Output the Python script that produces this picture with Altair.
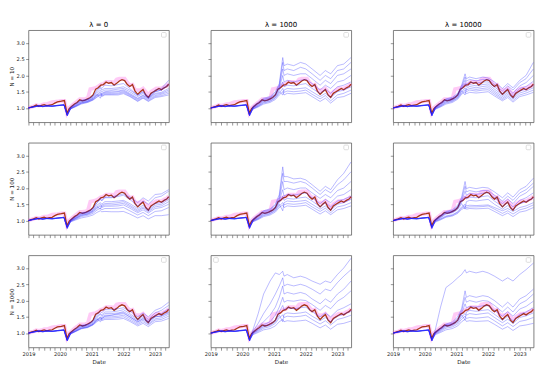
import altair as alt
import pandas as pd

COL_TITLES = ["λ = 0", "λ = 1000", "λ = 10000"]
ROW_TITLES = ["N = 10", "N = 100", "N = 1000"]

# Benchmark index (red line), read monthly
INDEX_DATES = [
    "2019-01-01", "2019-02-01", "2019-03-01", "2019-04-01", "2019-05-01", "2019-06-01",
    "2019-07-01", "2019-08-01", "2019-09-01", "2019-10-01", "2019-11-01", "2019-12-01",
    "2020-01-15", "2020-02-20", "2020-03-20", "2020-04-15", "2020-05-15", "2020-06-15",
    "2020-07-15", "2020-08-15", "2020-09-15", "2020-10-15", "2020-11-15", "2020-12-15",
    "2021-01-15", "2021-02-15", "2021-03-15", "2021-04-15", "2021-05-15", "2021-06-15",
    "2021-07-15", "2021-08-15", "2021-09-15", "2021-10-15", "2021-11-15", "2021-12-15",
    "2022-01-15", "2022-02-15", "2022-03-15", "2022-04-15", "2022-05-15", "2022-06-15",
    "2022-07-15", "2022-08-15", "2022-09-15", "2022-10-15", "2022-11-15", "2022-12-15",
    "2023-01-15", "2023-02-15", "2023-03-15", "2023-04-15", "2023-05-15", "2023-06-07",
]
INDEX_VALUES = [
    1.00, 1.03, 1.05, 1.09, 1.05, 1.08, 1.10, 1.07, 1.09, 1.10, 1.15, 1.19,
    1.21, 1.23, 0.84, 0.98, 1.05, 1.12, 1.17, 1.25, 1.22, 1.24, 1.28, 1.32,
    1.40, 1.58, 1.62, 1.70, 1.72, 1.80, 1.76, 1.78, 1.70, 1.76, 1.83, 1.87,
    1.84, 1.72, 1.66, 1.72, 1.52, 1.42, 1.50, 1.57, 1.40, 1.32, 1.45, 1.50,
    1.55, 1.60, 1.56, 1.62, 1.66, 1.73,
]
PINK_VALUES = [
    1.00, 1.03, 1.05, 1.09, 1.07, 1.09, 1.12, 1.12, 1.15, 1.18, 1.19, 1.20,
    1.22, 1.22, 0.86, 1.00, 1.07, 1.14, 1.20, 1.27, 1.27, 1.28, 1.30, 1.58,
    1.60, 1.62, 1.66, 1.72, 1.74, 1.80, 1.80, 1.80, 1.78, 1.88, 1.90, 1.90,
    1.90, 1.78, 1.70, 1.72, 1.56, 1.55, 1.55, 1.60, 1.50, 1.40, 1.50, 1.55,
    1.60, 1.60, 1.60, 1.65, 1.68, 1.75,
]

# Portfolio paths (blue lines): shared early segment + per-line later values
EARLY_DATES = ["2019-01-01", "2019-03-01", "2019-05-01", "2019-06-15", "2019-08-01",
               "2019-10-01", "2019-12-01", "2020-02-15", "2020-03-23"]
EARLY_A = [1.00, 1.04, 1.07, 1.05, 1.07, 1.06, 1.08, 1.10, 0.76]
EARLY_B = [1.00, 1.03, 1.06, 1.04, 1.06, 1.05, 1.07, 1.09, 0.80]
LATE_DATES = ["2020-05-01", "2020-07-01", "2020-09-01", "2020-11-15", "2021-01-15",
              "2021-03-01", "2021-04-10", "2021-04-25", "2021-06-01", "2021-08-15",
              "2021-11-01", "2022-01-01", "2022-03-15", "2022-06-15", "2022-08-15",
              "2022-10-15", "2023-01-01", "2023-03-15", "2023-06-07"]

BLUE_N10_L0 = [
    [1.02, 1.12, 1.22, 1.26, 1.35, 1.50, 1.62, 1.55, 1.60, 1.60, 1.62, 1.65, 1.55, 1.40, 1.50, 1.35, 1.55, 1.60, 1.85],
    [1.00, 1.10, 1.20, 1.24, 1.32, 1.45, 1.55, 1.50, 1.55, 1.55, 1.58, 1.60, 1.50, 1.35, 1.45, 1.32, 1.50, 1.55, 1.75],
    [1.00, 1.08, 1.18, 1.22, 1.30, 1.42, 1.30, 1.45, 1.50, 1.52, 1.52, 1.56, 1.45, 1.30, 1.40, 1.30, 1.45, 1.48, 1.60],
    [0.98, 1.07, 1.16, 1.20, 1.28, 1.40, 1.50, 1.42, 1.48, 1.48, 1.50, 1.53, 1.42, 1.28, 1.38, 1.28, 1.42, 1.45, 1.55],
    [0.98, 1.06, 1.15, 1.20, 1.27, 1.38, 1.45, 1.40, 1.45, 1.45, 1.46, 1.50, 1.40, 1.25, 1.35, 1.25, 1.38, 1.42, 1.50],
    [0.97, 1.05, 1.14, 1.18, 1.25, 1.35, 1.42, 1.37, 1.42, 1.42, 1.43, 1.47, 1.37, 1.22, 1.32, 1.22, 1.35, 1.38, 1.45],
    [0.97, 1.04, 1.12, 1.17, 1.24, 1.33, 1.40, 1.35, 1.40, 1.40, 1.40, 1.44, 1.35, 1.20, 1.30, 1.20, 1.32, 1.35, 1.40],
    [1.03, 1.14, 1.24, 1.27, 1.37, 1.55, 1.65, 1.60, 1.70, 1.68, 1.72, 1.75, 1.60, 1.38, 1.50, 1.30, 1.50, 1.55, 1.70],
]
BLUE_N10_L1000 = [
    [1.05, 1.18, 1.30, 1.35, 1.50, 1.75, 2.55, 2.30, 2.35, 2.30, 2.40, 2.35, 2.20, 2.00, 2.15, 2.05, 2.30, 2.35, 2.55],
    [1.03, 1.15, 1.27, 1.32, 1.45, 1.70, 2.40, 2.15, 2.20, 2.15, 2.25, 2.20, 2.05, 1.85, 2.00, 1.90, 2.15, 2.20, 2.40],
    [1.02, 1.13, 1.25, 1.30, 1.42, 1.65, 2.20, 2.00, 2.05, 2.00, 2.05, 2.05, 1.90, 1.70, 1.85, 1.75, 2.00, 2.05, 2.20],
    [1.00, 1.10, 1.22, 1.27, 1.38, 1.60, 2.00, 1.80, 1.85, 1.80, 1.85, 1.88, 1.75, 1.55, 1.70, 1.60, 1.80, 1.85, 2.00],
    [1.00, 1.08, 1.20, 1.25, 1.35, 1.55, 1.80, 1.65, 1.70, 1.68, 1.72, 1.75, 1.60, 1.45, 1.58, 1.45, 1.65, 1.70, 1.80],
    [0.98, 1.06, 1.17, 1.22, 1.32, 1.50, 1.40, 1.55, 1.60, 1.58, 1.60, 1.62, 1.50, 1.35, 1.45, 1.32, 1.50, 1.55, 1.65],
    [0.97, 1.05, 1.15, 1.20, 1.30, 1.45, 1.60, 1.48, 1.52, 1.50, 1.52, 1.55, 1.42, 1.28, 1.38, 1.22, 1.40, 1.45, 1.55],
    [0.96, 1.03, 1.12, 1.17, 1.26, 1.40, 1.50, 1.40, 1.45, 1.43, 1.45, 1.47, 1.35, 1.20, 1.30, 1.15, 1.32, 1.35, 1.45],
]
BLUE_N10_L10000 = [
    [1.04, 1.16, 1.28, 1.33, 1.45, 1.70, 2.05, 1.90, 1.95, 1.90, 1.95, 1.92, 1.80, 1.60, 1.75, 1.62, 1.85, 2.00, 2.40],
    [1.03, 1.14, 1.26, 1.30, 1.42, 1.65, 1.95, 1.82, 1.88, 1.83, 1.88, 1.87, 1.72, 1.52, 1.68, 1.55, 1.78, 1.90, 2.20],
    [1.02, 1.12, 1.24, 1.28, 1.40, 1.60, 1.85, 1.72, 1.80, 1.76, 1.80, 1.80, 1.65, 1.45, 1.60, 1.45, 1.68, 1.78, 2.00],
    [1.00, 1.10, 1.22, 1.26, 1.37, 1.57, 1.75, 1.65, 1.72, 1.68, 1.72, 1.74, 1.58, 1.40, 1.52, 1.38, 1.60, 1.66, 1.82],
    [1.00, 1.08, 1.20, 1.24, 1.35, 1.53, 1.40, 1.60, 1.66, 1.62, 1.66, 1.68, 1.52, 1.35, 1.47, 1.32, 1.52, 1.58, 1.70],
    [0.98, 1.06, 1.17, 1.22, 1.32, 1.50, 1.62, 1.55, 1.60, 1.57, 1.60, 1.62, 1.47, 1.30, 1.42, 1.28, 1.46, 1.52, 1.62],
    [0.97, 1.05, 1.15, 1.20, 1.30, 1.46, 1.56, 1.50, 1.55, 1.52, 1.55, 1.56, 1.42, 1.26, 1.37, 1.23, 1.40, 1.46, 1.55],
    [0.96, 1.03, 1.12, 1.17, 1.27, 1.42, 1.50, 1.44, 1.48, 1.46, 1.48, 1.50, 1.37, 1.22, 1.32, 1.18, 1.35, 1.40, 1.48],
]
BLUE_N100_L0 = [
    [1.03, 1.14, 1.24, 1.27, 1.37, 1.55, 1.65, 1.60, 1.70, 1.70, 1.74, 1.78, 1.65, 1.45, 1.60, 1.50, 1.70, 1.75, 1.90],
    [1.00, 1.10, 1.20, 1.24, 1.32, 1.47, 1.55, 1.50, 1.58, 1.58, 1.60, 1.62, 1.52, 1.37, 1.47, 1.33, 1.52, 1.55, 1.72],
    [1.00, 1.08, 1.18, 1.22, 1.30, 1.43, 1.35, 1.47, 1.52, 1.53, 1.55, 1.58, 1.47, 1.32, 1.42, 1.30, 1.47, 1.50, 1.65],
    [0.98, 1.07, 1.16, 1.20, 1.28, 1.40, 1.50, 1.43, 1.48, 1.48, 1.50, 1.53, 1.43, 1.28, 1.38, 1.27, 1.42, 1.45, 1.58],
    [0.98, 1.06, 1.15, 1.19, 1.26, 1.37, 1.45, 1.40, 1.44, 1.44, 1.45, 1.48, 1.38, 1.24, 1.33, 1.23, 1.37, 1.40, 1.50],
    [0.97, 1.04, 1.12, 1.16, 1.22, 1.32, 1.38, 1.33, 1.37, 1.37, 1.38, 1.40, 1.30, 1.17, 1.25, 1.15, 1.28, 1.30, 1.40],
    [0.96, 1.02, 1.08, 1.12, 1.17, 1.25, 1.30, 1.27, 1.28, 1.27, 1.27, 1.28, 1.20, 1.08, 1.15, 1.05, 1.15, 1.15, 1.18],
    [1.02, 1.12, 1.22, 1.26, 1.36, 1.55, 1.68, 1.62, 1.72, 1.72, 1.78, 1.82, 1.72, 1.55, 1.70, 1.60, 1.80, 1.82, 1.95],
]
BLUE_N100_L1000 = [
    [1.05, 1.18, 1.30, 1.36, 1.50, 1.80, 2.65, 2.35, 2.35, 2.28, 2.30, 2.25, 2.10, 1.90, 2.05, 1.95, 2.25, 2.45, 2.80],
    [1.04, 1.16, 1.28, 1.33, 1.47, 1.72, 2.45, 2.20, 2.20, 2.15, 2.20, 2.15, 2.00, 1.80, 1.95, 1.85, 2.10, 2.25, 2.50],
    [1.02, 1.13, 1.25, 1.30, 1.42, 1.65, 2.20, 1.95, 2.00, 1.95, 2.00, 2.00, 1.85, 1.68, 1.80, 1.70, 1.92, 2.00, 2.20],
    [1.00, 1.10, 1.22, 1.27, 1.38, 1.60, 1.95, 1.75, 1.80, 1.78, 1.82, 1.85, 1.70, 1.52, 1.65, 1.55, 1.75, 1.80, 1.95],
    [1.00, 1.08, 1.20, 1.25, 1.35, 1.55, 1.75, 1.62, 1.68, 1.66, 1.70, 1.72, 1.60, 1.42, 1.55, 1.42, 1.60, 1.65, 1.75],
    [0.98, 1.06, 1.17, 1.22, 1.32, 1.50, 1.30, 1.55, 1.60, 1.58, 1.60, 1.62, 1.50, 1.35, 1.45, 1.32, 1.50, 1.55, 1.65],
    [0.97, 1.05, 1.15, 1.20, 1.30, 1.45, 1.55, 1.48, 1.52, 1.50, 1.52, 1.55, 1.42, 1.28, 1.38, 1.24, 1.42, 1.46, 1.55],
    [0.96, 1.03, 1.12, 1.17, 1.26, 1.40, 1.48, 1.40, 1.45, 1.43, 1.45, 1.47, 1.35, 1.20, 1.30, 1.18, 1.33, 1.37, 1.45],
]
BLUE_N100_L10000 = [
    [1.04, 1.16, 1.28, 1.33, 1.47, 1.72, 2.20, 1.98, 2.02, 1.98, 2.02, 2.00, 1.88, 1.70, 1.85, 1.72, 1.95, 2.05, 2.30],
    [1.03, 1.14, 1.26, 1.30, 1.43, 1.66, 2.05, 1.88, 1.92, 1.88, 1.92, 1.92, 1.78, 1.60, 1.75, 1.62, 1.85, 1.95, 2.15],
    [1.02, 1.12, 1.24, 1.28, 1.40, 1.60, 1.90, 1.78, 1.84, 1.80, 1.84, 1.85, 1.70, 1.52, 1.66, 1.52, 1.75, 1.85, 2.05],
    [1.00, 1.10, 1.22, 1.26, 1.37, 1.56, 1.75, 1.66, 1.72, 1.70, 1.74, 1.76, 1.60, 1.43, 1.56, 1.42, 1.62, 1.70, 1.85],
    [1.00, 1.08, 1.20, 1.24, 1.34, 1.52, 1.35, 1.58, 1.62, 1.60, 1.63, 1.65, 1.50, 1.35, 1.46, 1.33, 1.52, 1.58, 1.70],
    [0.98, 1.05, 1.14, 1.18, 1.27, 1.42, 1.50, 1.45, 1.47, 1.46, 1.47, 1.48, 1.40, 1.30, 1.37, 1.28, 1.40, 1.45, 1.55],
    [0.97, 1.04, 1.12, 1.16, 1.25, 1.38, 1.45, 1.40, 1.42, 1.42, 1.43, 1.45, 1.35, 1.22, 1.30, 1.20, 1.33, 1.38, 1.48],
    [0.95, 1.02, 1.10, 1.14, 1.22, 1.34, 1.40, 1.35, 1.37, 1.36, 1.37, 1.38, 1.28, 1.15, 1.23, 1.12, 1.26, 1.30, 1.40],
]
BLUE_N1000_L0 = [
    [1.03, 1.14, 1.24, 1.27, 1.38, 1.58, 1.66, 1.62, 1.72, 1.72, 1.75, 1.78, 1.68, 1.50, 1.62, 1.50, 1.70, 1.78, 1.95],
    [1.02, 1.12, 1.22, 1.26, 1.36, 1.52, 1.60, 1.56, 1.65, 1.65, 1.68, 1.72, 1.60, 1.42, 1.55, 1.42, 1.62, 1.70, 1.85],
    [1.00, 1.10, 1.20, 1.24, 1.33, 1.48, 1.58, 1.52, 1.60, 1.60, 1.62, 1.66, 1.55, 1.38, 1.50, 1.36, 1.55, 1.60, 1.75],
    [1.00, 1.08, 1.18, 1.22, 1.30, 1.44, 1.35, 1.48, 1.55, 1.55, 1.57, 1.60, 1.50, 1.34, 1.44, 1.32, 1.50, 1.53, 1.65],
    [0.99, 1.07, 1.16, 1.20, 1.28, 1.42, 1.50, 1.45, 1.50, 1.50, 1.52, 1.55, 1.45, 1.30, 1.40, 1.28, 1.44, 1.47, 1.58],
    [0.98, 1.06, 1.15, 1.19, 1.27, 1.38, 1.46, 1.41, 1.46, 1.46, 1.48, 1.50, 1.40, 1.26, 1.35, 1.25, 1.40, 1.42, 1.52],
    [0.97, 1.05, 1.13, 1.17, 1.25, 1.35, 1.42, 1.38, 1.42, 1.42, 1.43, 1.45, 1.36, 1.22, 1.30, 1.20, 1.35, 1.37, 1.45],
    [0.98, 1.06, 1.14, 1.18, 1.26, 1.40, 1.48, 1.44, 1.52, 1.55, 1.60, 1.63, 1.50, 1.35, 1.45, 1.35, 1.50, 1.52, 1.62],
]
BLUE_N1000_L1000 = [
    [1.10, 1.60, 2.20, 2.60, 2.85, 2.80, 2.90, 2.75, 2.80, 2.70, 2.75, 2.70, 2.60, 2.50, 2.60, 2.55, 2.80, 3.00, 3.30],
    [1.05, 1.30, 1.60, 1.90, 2.20, 2.45, 2.70, 2.45, 2.50, 2.45, 2.50, 2.45, 2.35, 2.20, 2.35, 2.30, 2.55, 2.75, 2.95],
    [1.03, 1.18, 1.35, 1.55, 1.80, 2.10, 2.45, 2.20, 2.25, 2.20, 2.25, 2.20, 2.05, 1.90, 2.05, 1.95, 2.20, 2.35, 2.60],
    [1.02, 1.13, 1.26, 1.35, 1.55, 1.80, 2.10, 1.95, 2.00, 1.98, 2.02, 2.00, 1.88, 1.70, 1.85, 1.75, 1.98, 2.10, 2.30],
    [1.00, 1.10, 1.22, 1.28, 1.40, 1.65, 1.85, 1.72, 1.78, 1.75, 1.78, 1.80, 1.66, 1.50, 1.62, 1.50, 1.70, 1.78, 1.90],
    [0.99, 1.08, 1.19, 1.24, 1.35, 1.55, 1.35, 1.58, 1.62, 1.60, 1.62, 1.65, 1.52, 1.38, 1.48, 1.35, 1.52, 1.58, 1.68],
    [0.97, 1.05, 1.15, 1.20, 1.30, 1.47, 1.56, 1.48, 1.52, 1.50, 1.52, 1.55, 1.42, 1.28, 1.38, 1.25, 1.42, 1.47, 1.55],
    [0.95, 1.02, 1.10, 1.14, 1.22, 1.35, 1.42, 1.35, 1.38, 1.36, 1.38, 1.40, 1.30, 1.16, 1.25, 1.12, 1.27, 1.30, 1.37],
]
BLUE_N1000_L10000 = [
    [1.10, 1.80, 2.40, 2.55, 2.70, 2.80, 2.95, 2.85, 2.90, 2.85, 2.90, 2.85, 2.75, 2.60, 2.70, 2.60, 2.80, 2.95, 3.15],
    [1.04, 1.16, 1.28, 1.34, 1.50, 1.75, 2.30, 2.10, 2.15, 2.10, 2.15, 2.12, 2.00, 1.80, 1.95, 1.80, 2.05, 2.15, 2.35],
    [1.03, 1.14, 1.26, 1.30, 1.45, 1.68, 2.10, 1.95, 2.00, 1.95, 2.00, 1.98, 1.85, 1.65, 1.80, 1.65, 1.90, 2.00, 2.20],
    [1.02, 1.12, 1.24, 1.28, 1.40, 1.60, 1.90, 1.78, 1.82, 1.80, 1.84, 1.84, 1.70, 1.52, 1.66, 1.52, 1.74, 1.82, 1.98],
    [1.00, 1.10, 1.22, 1.26, 1.37, 1.56, 1.40, 1.65, 1.70, 1.67, 1.70, 1.72, 1.58, 1.40, 1.52, 1.38, 1.58, 1.65, 1.78],
    [0.99, 1.08, 1.19, 1.23, 1.33, 1.50, 1.60, 1.55, 1.60, 1.57, 1.60, 1.62, 1.48, 1.32, 1.43, 1.30, 1.48, 1.53, 1.62],
    [0.97, 1.05, 1.15, 1.19, 1.28, 1.43, 1.52, 1.45, 1.48, 1.46, 1.48, 1.50, 1.38, 1.22, 1.32, 1.20, 1.36, 1.40, 1.48],
    [0.95, 1.02, 1.10, 1.14, 1.22, 1.35, 1.42, 1.36, 1.38, 1.36, 1.37, 1.38, 1.27, 1.12, 1.20, 1.08, 1.22, 1.25, 1.30],
]
BLUE = [
    [BLUE_N10_L0, BLUE_N10_L1000, BLUE_N10_L10000],
    [BLUE_N100_L0, BLUE_N100_L1000, BLUE_N100_L10000],
    [BLUE_N1000_L0, BLUE_N1000_L1000, BLUE_N1000_L10000],
]

Y_TICKS = [1.0, 1.5, 2.0, 2.5, 3.0]
W, H = 151, 99


def tick_dates():
    out = []
    for y in range(2019, 2024):
        for m in range(1, 13, 2):
            if y == 2023 and m > 5:
                break
            out.append(alt.DateTime(year=y, month=m, date=1))
    return out


def panel(r, c):
    idx_df = pd.DataFrame({"date": INDEX_DATES, "value": INDEX_VALUES})
    pink_df = pd.DataFrame({"date": INDEX_DATES, "value": PINK_VALUES})
    rows = []
    for i, late in enumerate(BLUE[r][c]):
        early = EARLY_A if i % 2 == 0 else EARLY_B
        for d, v in zip(EARLY_DATES + LATE_DATES, early + late):
            rows.append({"date": d, "value": v, "line": i})
    blue_df = pd.DataFrame(rows)

    xkw = dict(values=tick_dates(), grid=False, tickSize=3, domain=False,
               labelFlush=False, labelOverlap=False)
    if r == 2:
        xkw["labelExpr"] = "month(datum.value) == 0 ? timeFormat(datum.value, '%Y') : ''"
    else:
        xkw["labels"] = False
    ykw = dict(values=Y_TICKS, format=".1f", grid=False, tickSize=3, domain=False)
    if c != 0:
        ykw["labels"] = False

    x = alt.X("date:T",
              scale=alt.Scale(domain=[alt.DateTime(year=2019, month=1, date=1),
                                      alt.DateTime(year=2023, month=6, date=10)]),
              axis=alt.Axis(**xkw),
              title=("Date" if r == 2 else None))
    y = alt.Y("value:Q",
              scale=alt.Scale(domain=[0.56, 3.39], nice=False, zero=False),
              axis=alt.Axis(**ykw),
              title=(ROW_TITLES[r] if c == 0 else None))

    pink = alt.Chart(pink_df).mark_line(color="#ff50e0", opacity=0.3, strokeWidth=4).encode(x=x, y=y)
    red = alt.Chart(idx_df).mark_line(color="#a8361a", strokeWidth=1.4).encode(x=x, y=y)
    blue = alt.Chart(blue_df).mark_line(color="#1a1aff", opacity=0.36, strokeWidth=0.9).encode(
        x=x, y=y, detail="line:N")
    if r == 2 and c == 1:
        bx, bx2 = 3, 8
    else:
        bx, bx2 = W - 8, W - 3
    box = alt.Chart(pd.DataFrame({"k": [0]})).mark_rect(
        fill="white", stroke="#cccccc", strokeWidth=0.7, cornerRadius=1).encode(
        x=alt.value(bx), x2=alt.value(bx2), y=alt.value(2.5), y2=alt.value(7.5))

    layer = alt.layer(pink, red, blue, box).properties(width=W, height=H)
    if r == 0:
        layer = layer.properties(title=COL_TITLES[c])
    return layer


rows = [alt.hconcat(*[panel(r, c) for c in range(3)], spacing=27) for r in range(3)]

chart = (
    alt.vconcat(*rows, spacing=17)
    .properties(padding={"left": 0, "top": 0, "right": 0, "bottom": 0})
    .configure_view(stroke="#555555", strokeWidth=0.8)
    .configure_axis(labelFont="DejaVu Sans", titleFont="DejaVu Sans", labelFontSize=5.5,
                    titleFontSize=6, titleFontWeight="normal", labelColor="#222222",
                    titleColor="#222222", tickColor="#444444", tickWidth=0.6,
                    labelPadding=1.5, titlePadding=2, minExtent=0)
    .configure_title(font="DejaVu Sans", fontSize=7.5, fontWeight="normal", color="black", offset=2)
)

chart.save("out.html", embed_options={"renderer": "svg", "actions": False})
